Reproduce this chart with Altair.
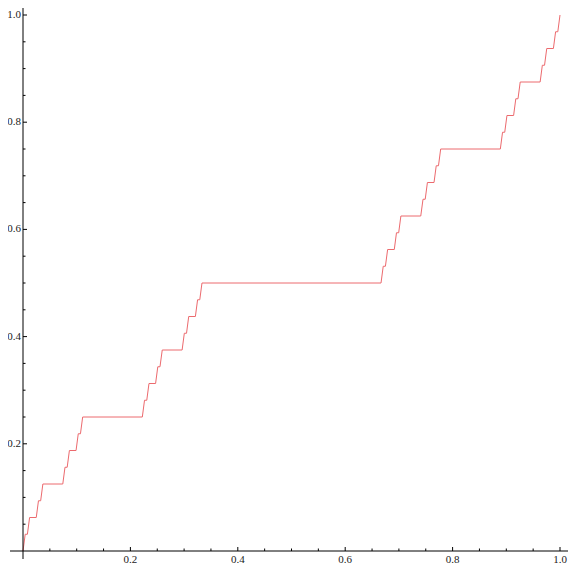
import altair as alt
import pandas as pd

# Staircase: flat steps (start x, end x, height)
STEP_X0 = [0.0041, 0.0123, 0.0288, 0.0370, 0.0782, 0.0864, 0.1029, 0.1111,
           0.2263, 0.2346, 0.2510, 0.2593, 0.3004, 0.3086, 0.3251, 0.3333,
           0.6708, 0.6790, 0.6955, 0.7037, 0.7449, 0.7531, 0.7695, 0.7778,
           0.8930, 0.9012, 0.9177, 0.9259, 0.9671, 0.9753, 0.9918]
STEP_X1 = [0.0082, 0.0247, 0.0329, 0.0741, 0.0823, 0.0988, 0.1070, 0.2222,
           0.2305, 0.2469, 0.2551, 0.2963, 0.3045, 0.3210, 0.3292, 0.6667,
           0.6749, 0.6914, 0.6996, 0.7407, 0.7490, 0.7654, 0.7737, 0.8889,
           0.8971, 0.9136, 0.9218, 0.9630, 0.9712, 0.9877, 0.9959]
STEP_Y = [0.03125, 0.0625, 0.09375, 0.125, 0.15625, 0.1875, 0.21875, 0.25,
          0.28125, 0.3125, 0.34375, 0.375, 0.40625, 0.4375, 0.46875, 0.5,
          0.53125, 0.5625, 0.59375, 0.625, 0.65625, 0.6875, 0.71875, 0.75,
          0.78125, 0.8125, 0.84375, 0.875, 0.90625, 0.9375, 0.96875]
START = (0.0, 0.0)
END = (1.0, 1.0)

MAJOR_TICKS = [0.2, 0.4, 0.6, 0.8, 1.0]
MINOR_TICKS = [0.05, 0.1, 0.15, 0.25, 0.3, 0.35, 0.45, 0.5, 0.55, 0.65,
               0.7, 0.75, 0.85, 0.9, 0.95]
TICK_LABELS = ["0.2", "0.4", "0.6", "0.8", "1.0"]

# layout (pixels, inside the svg)
W, H = 560, 559
OX, OY = 15.0, 543.0          # where the axes cross
PX_X = 537.0                  # pixels per unit on x
PX_Y = 536.0                  # pixels per unit on y
X_DOMAIN = [-OX / PX_X, (W - OX) / PX_X]
Y_DOMAIN = [(OY - H) / PX_Y, OY / PX_Y]
MAJ_LEN, MIN_LEN = 4.0, 2.5
LINE_COLOR = "#ec6a6e"
FONT = "Liberation Serif"

xs = [START[0]]
ys = [START[1]]
for a, b, v in zip(STEP_X0, STEP_X1, STEP_Y):
    xs += [a, b]
    ys += [v, v]
xs.append(END[0])
ys.append(END[1])
curve = pd.DataFrame({"x": xs, "y": ys, "i": range(len(xs))})

xs_scale = alt.Scale(domain=X_DOMAIN, nice=False, zero=False)
ys_scale = alt.Scale(domain=Y_DOMAIN, nice=False, zero=False)

line = alt.Chart(curve).mark_line(color=LINE_COLOR, strokeWidth=1, clip=True).encode(
    x=alt.X("x:Q", scale=xs_scale, axis=None),
    y=alt.Y("y:Q", scale=ys_scale, axis=None),
    order="i:Q",
)

axes_df = pd.DataFrame({
    "x": [-13 / PX_X, 0.0], "x2": [X_DOMAIN[1], 0.0],
    "y": [0.0, -8 / PX_Y], "y2": [0.0, Y_DOMAIN[1]],
})
axes = alt.Chart(axes_df).mark_rule(color="black", strokeWidth=1).encode(
    x=alt.X("x:Q", scale=xs_scale, axis=None), x2="x2:Q",
    y=alt.Y("y:Q", scale=ys_scale, axis=None), y2="y2:Q",
)

rows = []
for t in MAJOR_TICKS:
    rows.append({"x": t, "x2": t, "y": 0.0, "y2": MAJ_LEN / PX_Y})
    rows.append({"x": 0.0, "x2": MAJ_LEN / PX_X, "y": t, "y2": t})
for t in MINOR_TICKS:
    rows.append({"x": t, "x2": t, "y": 0.0, "y2": MIN_LEN / PX_Y})
    rows.append({"x": 0.0, "x2": MIN_LEN / PX_X, "y": t, "y2": t})
ticks = alt.Chart(pd.DataFrame(rows)).mark_rule(color="black", strokeWidth=1).encode(
    x=alt.X("x:Q", scale=xs_scale, axis=None), x2="x2:Q",
    y=alt.Y("y:Q", scale=ys_scale, axis=None), y2="y2:Q",
)

lab_df = pd.DataFrame({"v": MAJOR_TICKS, "t": TICK_LABELS, "z": [0.0] * len(MAJOR_TICKS)})
xlabels = alt.Chart(lab_df).mark_text(
    font=FONT, fontSize=11, color="#222222", align="center", baseline="alphabetic", dy=12
).encode(
    x=alt.X("v:Q", scale=xs_scale, axis=None),
    y=alt.Y("z:Q", scale=ys_scale, axis=None),
    text="t:N",
)
ylabels = alt.Chart(lab_df).mark_text(
    font=FONT, fontSize=11, color="#222222", align="right", baseline="middle", dx=-2
).encode(
    x=alt.X("z:Q", scale=xs_scale, axis=None),
    y=alt.Y("v:Q", scale=ys_scale, axis=None),
    text="t:N",
)

chart = alt.layer(line, axes, ticks, xlabels, ylabels).properties(
    width=W, height=H,
    autosize=alt.AutoSizeParams(type="none"),
    padding={"left": 0, "top": 0, "right": 0, "bottom": 0},
    background="white",
).configure_view(stroke=None)

chart.save("out.html", embed_options={"renderer": "svg", "actions": False})
